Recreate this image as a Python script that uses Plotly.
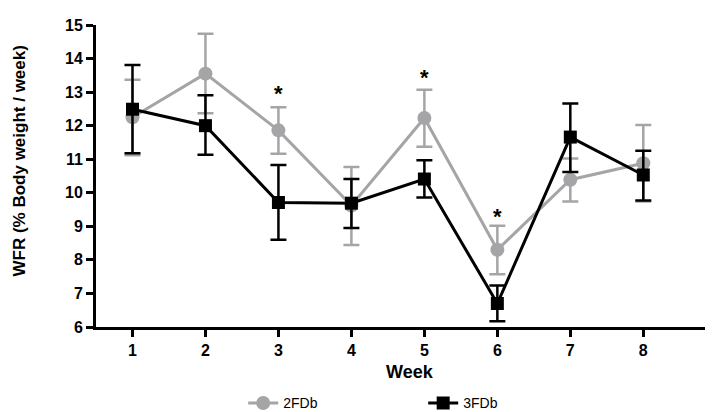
import plotly.graph_objects as go

weeks = [1, 2, 3, 4, 5, 6, 7, 8]

g2_mean = [12.25, 13.55, 11.86, 9.62, 12.23, 8.30, 10.39, 10.88]
g2_upper = [13.37, 14.74, 12.55, 10.77, 13.07, 9.02, 11.02, 12.02]
g2_lower = [11.12, 12.37, 11.16, 8.44, 11.37, 7.57, 9.74, 9.74]

g3_mean = [12.49, 12.00, 9.71, 9.69, 10.41, 6.70, 11.66, 10.53]
g3_upper = [13.81, 12.91, 10.83, 10.41, 10.97, 7.24, 12.66, 11.25]
g3_lower = [11.18, 11.13, 8.60, 8.95, 9.86, 6.17, 10.62, 9.77]

sig_weeks = [3, 5, 6]
sig_y = [12.97, 13.45, 9.3]

series_names = ["2FDb", "3FDb"]
x_tick_vals = [1, 2, 3, 4, 5, 6, 7, 8, 9]
y_tick_vals = [6, 7, 8, 9, 10, 11, 12, 13, 14, 15]

GRAY = "#a5a5a8"
FONT = "Arial, Liberation Sans, sans-serif"

fig = go.Figure()

fig.add_trace(go.Scatter(
    x=weeks, y=g2_mean, name=series_names[0], mode="lines+markers",
    line=dict(color=GRAY, width=3),
    marker=dict(symbol="circle", size=14, color=GRAY),
    error_y=dict(type="data", symmetric=False,
                 array=[u - m for u, m in zip(g2_upper, g2_mean)],
                 arrayminus=[m - l for m, l in zip(g2_mean, g2_lower)],
                 color=GRAY, thickness=2.5, width=8),
))
fig.add_trace(go.Scatter(
    x=weeks, y=g3_mean, name=series_names[1], mode="lines+markers",
    line=dict(color="black", width=3),
    marker=dict(symbol="square", size=13, color="black"),
    error_y=dict(type="data", symmetric=False,
                 array=[u - m for u, m in zip(g3_upper, g3_mean)],
                 arrayminus=[m - l for m, l in zip(g3_mean, g3_lower)],
                 color="black", thickness=2.5, width=8),
))

for w, yv in zip(sig_weeks, sig_y):
    fig.add_annotation(x=w, y=yv, text="<b>*</b>", showarrow=False,
                       font=dict(size=22, color="black", family=FONT))

fig.add_annotation(xref="paper", yref="paper", x=0.505, y=-0.150,
                   xanchor="center", yanchor="middle", showarrow=False,
                   text="<b>Week</b>", font=dict(size=18, family=FONT, color="black"))
fig.add_annotation(xref="paper", yref="paper", x=-0.123, y=0.55,
                   xanchor="center", yanchor="middle", showarrow=False, textangle=-90,
                   text="<b>WFR (% Body weight / week)</b>",
                   font=dict(size=17, family=FONT, color="black"))

fig.update_layout(
    width=713, height=412,
    margin=dict(l=88, r=0, t=17, b=82),
    paper_bgcolor="white", plot_bgcolor="white",
    font=dict(family=FONT, color="black"),
    showlegend=True,
    legend=dict(orientation="h", x=0.237, xanchor="left", y=-0.2, yanchor="top",
                font=dict(size=14, family=FONT), itemwidth=30,
                entrywidth=135, entrywidthmode="pixels"),
    xaxis=dict(range=[0.5, 9.01], tickmode="array", tickvals=x_tick_vals,
               ticktext=["<b>%d</b>" % v for v in x_tick_vals],
               showgrid=False, zeroline=False,
               showline=True, linecolor="black", linewidth=3,
               ticks="outside", ticklen=7, tickwidth=3, tickcolor="black",
               ticklabeloverflow="allow",
               tickfont=dict(size=16, family=FONT)),
    yaxis=dict(range=[6, 15], tickmode="array", tickvals=y_tick_vals,
               ticktext=["<b>%d</b>" % v for v in y_tick_vals],
               showgrid=False, zeroline=False,
               showline=True, linecolor="black", linewidth=3,
               ticks="outside", ticklen=7, tickwidth=3, tickcolor="black",
               tickfont=dict(size=16, family=FONT)),
)

fig.write_html("out.html")
